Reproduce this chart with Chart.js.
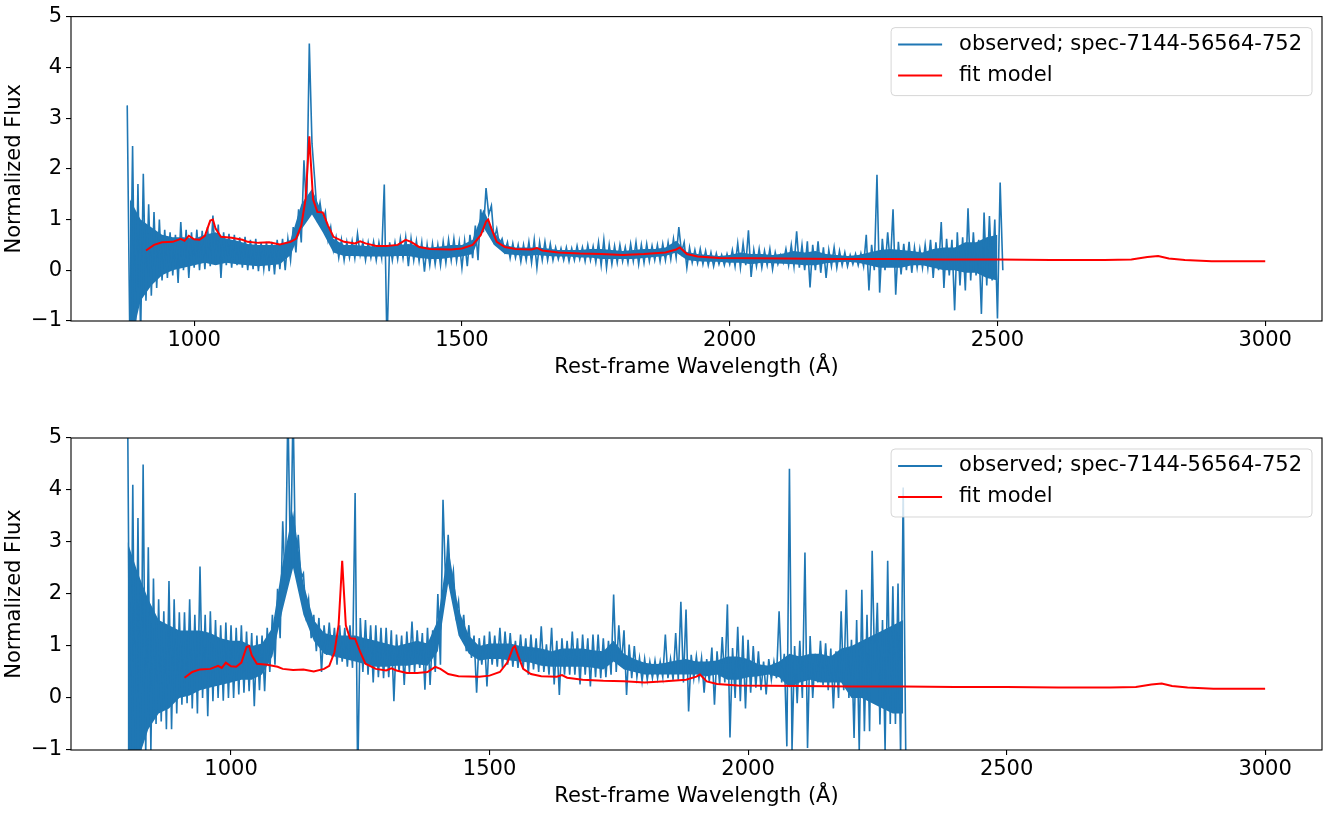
<!DOCTYPE html>
<html>
<head>
<meta charset="utf-8">
<script src="https://cdn.jsdelivr.net/npm/chart.js@4.4.1/dist/chart.umd.min.js"></script>
<style>
  html, body { margin: 0; padding: 0; background: #fff; overflow: hidden; }
  .panel { position: absolute; left: 0; }
</style>
</head>
<body>
<div class="panel" style="top:0"><canvas id="TopChart" width="1331" height="400"></canvas></div>
<div class="panel" style="top:410px"><canvas id="BottomChart" width="1331" height="403"></canvas></div>
<script>
// spectra.js

const xTickValues = [1000, 1500, 2000, 2500, 3000];
const yTickValues = [-1, 0, 1, 2, 3, 4, 5];
const obsLabel = "observed; spec-7144-56564-752";
const fitLabel = "fit model";

// observed flux, read as upper / lower extremes in 10 A bins (spikes)
const binStep = 10;
// plus the dense part of the noise band, read every 20 A
const coreStep = 20;

// top panel: bins start at 875 A
const topStart = 875;
const topHigh = [
    3.25, 2.45, 1.7, 1.9, 1.3, 1.15, 1.0, 0.8, 0.75, 0.7,
    0.95, 0.8, 0.75, 0.8, 0.78, 0.85, 1.08, 0.9, 0.75, 0.72,
    0.7, 0.65, 0.66, 0.6, 0.62, 0.55, 0.56, 0.56, 0.6, 0.62,
    0.62, 0.85, 1.2, 2.17, 4.47, 1.8, 1.33, 1.15, 0.85, 0.65,
    0.6, 0.56, 0.58, 0.72, 0.56, 0.55, 0.56, 0.55, 1.69, 0.55,
    0.55, 0.62, 0.65, 0.62, 0.58, 0.55, 0.5, 0.52, 0.5, 0.56,
    0.6, 0.62, 0.56, 0.58, 0.7, 0.88, 1.2, 1.62, 1.27, 0.82,
    0.62, 0.55, 0.53, 0.5, 0.5, 0.56, 0.6, 0.55, 0.56, 0.52,
    0.45, 0.43, 0.45, 0.43, 0.48, 0.45, 0.5, 0.47, 0.55, 0.6,
    0.5, 0.48, 0.5, 0.45, 0.52, 0.55, 0.5, 0.52, 0.48, 0.5,
    0.52, 0.55, 0.62, 0.85, 0.55, 0.45, 0.4, 0.42, 0.38, 0.35,
    0.33, 0.3, 0.32, 0.4, 0.53, 0.53, 0.79, 0.4, 0.42, 0.38,
    0.42, 0.35, 0.3, 0.42, 0.5, 0.77, 0.5, 0.57, 0.5, 0.57,
    0.45, 0.4, 0.45, 0.38, 0.35, 0.3, 0.32, 0.33, 0.7, 0.5,
    1.88, 0.62, 0.75, 1.2, 0.56, 0.52, 0.56, 0.45, 0.42, 0.5,
    0.6, 0.55, 0.95, 0.62, 0.6, 0.75, 0.65, 1.22, 0.75, 0.6,
    1.14, 1.07, 1.0, 1.73
];
const topLow = [
    -1.5, -1.5, -1.3, -0.6, -0.5, -0.35, -0.2, -0.15, -0.1, -0.25,
    0.0, -0.15, 0.05, 0.0, 0.02, 0.08, 0.15, -0.15, 0.1, 0.05,
    0.1, 0.05, 0.0, 0.02, -0.02, 0.03, -0.02, -0.08, 0.02, 0.0,
    0.2, 0.35, 0.55, 1.1, 2.5, 1.05, 0.95, 0.6, 0.4, 0.25,
    0.2, 0.25, 0.24, 0.3, 0.2, 0.25, 0.2, 0.25, -1.5, 0.2,
    0.22, 0.24, 0.08, 0.2, 0.18, -0.03, 0.1, 0.12, 0.1, 0.15,
    0.2, 0.18, 0.05, 0.08, 0.24, 0.2, 0.75, 1.1, 0.6, 0.5,
    0.37, 0.24, 0.25, 0.17, 0.2, 0.15, 0.05, 0.2, 0.2, 0.2,
    0.22, 0.2, 0.18, 0.2, 0.22, 0.18, 0.2, 0.16, 0.1, 0.05,
    0.12, 0.15, 0.18, 0.15, 0.18, 0.12, 0.15, 0.18, 0.2, 0.18,
    0.2, 0.22, 0.25, 0.35, 0.05, 0.15, 0.14, 0.12, 0.1, 0.08,
    0.12, 0.1, 0.12, 0.08, 0.05, 0.1, -0.13, 0.08, 0.05, 0.1,
    0.02, 0.12, 0.15, 0.1, 0.08, 0.05, 0.0, -0.34, 0.0, -0.05,
    -0.15, 0.08, 0.05, 0.1, 0.08, 0.12, 0.1, 0.08, -0.4, 0.0,
    -0.44, 0.0, 0.1, -0.48, -0.08, 0.0, -0.05, 0.05, 0.05, 0.05,
    -0.15, 0.0, -0.35, -0.1, -0.79, -0.3, -0.4, -0.2, -0.1, -0.86,
    -0.3, -0.2, -0.95, 0.0
];
// dense band, top panel, from 880 A
const topCoreStart = 880;
const topCoreHigh = [
    1.4, 1.0, 0.85, 0.7, 0.65, 0.65, 0.62, 0.7, 0.75, 0.62, 0.58, 0.52, 0.5, 0.5, 0.5, 0.6,
    1.3, 1.6, 1.1, 0.62, 0.5, 0.5, 0.48, 0.47, 0.47, 0.5, 0.52, 0.48, 0.45, 0.47, 0.5,
    0.5, 0.6, 1.2, 0.75, 0.5, 0.45, 0.45, 0.45, 0.43, 0.4, 0.4, 0.4, 0.42, 0.42, 0.4,
    0.38, 0.4, 0.42, 0.42, 0.45, 0.58, 0.36, 0.32, 0.3, 0.28, 0.3, 0.35, 0.32, 0.32, 0.3,
    0.33, 0.38, 0.35, 0.38, 0.32, 0.3, 0.28, 0.3, 0.35, 0.4, 0.42, 0.4, 0.38, 0.35, 0.42,
    0.45, 0.45, 0.55, 0.55, 0.65, 0.7
];
const topCoreLow = [
    -1.5, -0.6, -0.3, -0.1, 0.0, 0.05, 0.1, 0.15, 0.1, 0.15, 0.12, 0.1, 0.08, 0.1, 0.12, 0.3,
    0.8, 1.1, 0.75, 0.35, 0.28, 0.28, 0.27, 0.27, 0.27, 0.28, 0.28, 0.24, 0.22, 0.22, 0.25,
    0.27, 0.32, 0.85, 0.5, 0.32, 0.3, 0.28, 0.3, 0.28, 0.27, 0.27, 0.25, 0.25, 0.22, 0.22,
    0.22, 0.22, 0.24, 0.26, 0.28, 0.35, 0.2, 0.18, 0.17, 0.17, 0.15, 0.15, 0.12, 0.15, 0.14,
    0.13, 0.12, 0.1, 0.1, 0.14, 0.16, 0.17, 0.15, 0.1, 0.05, 0.05, 0.05, 0.1, 0.1, 0.05,
    0.0, 0.0, -0.05, -0.05, -0.15, -0.2
];

// bottom panel: bins start at 800 A
const bottomStart = 800;
const bottomHigh = [
    5.6, 4.1, 3.46, 4.49, 2.9, 2.3, 1.9, 1.67, 2.25, 1.9,
    1.65, 1.65, 1.9, 1.6, 2.53, 1.6, 1.67, 1.5, 1.4, 1.45,
    1.4, 1.35, 1.4, 1.28, 1.25, 1.2, 1.2, 1.35, 1.6, 2.1,
    3.4, 5.6, 5.6, 3.14, 2.4, 1.9, 1.6, 1.54, 1.4, 1.45,
    1.35, 1.4, 1.35, 1.4, 3.94, 1.54, 1.5, 1.4, 1.4, 1.35,
    1.35, 1.3, 1.22, 1.2, 1.28, 1.47, 1.3, 1.25, 1.35, 1.3,
    2.0, 3.81, 3.14, 2.44, 1.86, 1.6, 1.4, 1.2, 1.15, 1.2,
    1.28, 1.2, 1.35, 1.28, 1.25, 1.1, 1.22, 1.15, 1.22, 1.15,
    1.38, 1.03, 1.35, 1.1, 1.15, 1.1, 1.28, 1.15, 1.22, 1.15,
    1.22, 1.22, 1.15, 1.1, 1.99, 1.4, 1.3, 1.03, 1.0, 0.77,
    0.75, 0.7, 0.72, 0.7, 1.22, 0.75, 1.25, 1.85, 1.7, 0.83,
    0.8, 0.77, 0.75, 0.97, 0.9, 1.17, 1.8, 0.96, 1.37, 1.2,
    1.12, 1.0, 0.9, 0.7, 0.75, 0.7, 1.67, 0.85, 4.41, 1.0,
    1.1, 2.8, 1.19, 0.85, 1.1, 1.05, 0.95, 0.9, 1.67, 2.08,
    1.12, 1.5, 2.08, 1.6, 2.83, 1.83, 1.5, 2.64, 2.15, 2.2,
    4.05
];
const bottomLow = [
    -1.6, -1.6, -1.4, -1.1, -1.0, -0.5, -0.45, -0.6, -0.6, -0.3,
    -0.13, -0.1, -0.2, -0.3, 0.0, -0.35, -0.06, 0.0, -0.05, 0.0,
    0.0, 0.07, 0.1, 0.13, -0.16, 0.15, 0.13, 0.5, 0.64, 1.15,
    2.1, 2.5, 2.4, 2.3, 1.6, 1.15, 0.9, 0.5, 0.83, 0.8,
    0.64, 0.7, 0.6, 0.58, -1.6, 0.5, 0.45, 0.3, 0.4, 0.38,
    0.4, -0.06, 0.5, 0.25, 0.5, 0.5, 0.58, 0.16, 0.25, 0.5,
    0.64, 2.2, 2.1, 1.6, 1.15, 0.9, 0.77, 0.1, 0.64, 0.22,
    0.64, 0.6, 0.58, 0.64, 0.6, 0.58, 0.58, 0.45, 0.55, 0.5,
    0.5, 0.45, 0.26, 0.06, 0.45, 0.45, 0.45, 0.26, 0.45, 0.22,
    0.4, 0.38, 0.4, 0.45, 0.5, 0.64, 0.06, 0.38, 0.4, 0.32,
    0.35, 0.38, 0.38, 0.4, 0.38, 0.35, 0.35, 0.3, -0.26, 0.38,
    0.38, 0.1, 0.32, -0.13, 0.25, 0.3, -0.76, 0.0, -0.06, -0.2,
    0.1, 0.2, 0.15, 0.07, 0.35, 0.38, 0.3, -0.93, -1.0, -0.1,
    0.0, -0.96, 0.0, 0.3, 0.25, 0.15, -0.2, 0.0, 0.15, 0.0,
    -0.77, -1.0, -0.64, -0.64, 0.5, -0.51, -1.0, -0.5, -0.5, -1.1,
    -1.1
];
// dense band, bottom panel, from 800 A
const bottomCoreStart = 800;
const bottomCoreHigh = [
    3.0, 2.4, 1.9, 1.5, 1.4, 1.3, 1.3, 1.3, 1.25, 1.15, 1.1, 1.1, 1.0, 1.05, 1.35, 2.6,
    3.6, 2.2, 1.5, 1.25, 1.2, 1.2, 1.2, 1.15, 1.1, 1.05, 1.0, 1.05, 1.1, 1.05, 1.5,
    2.9, 1.7, 1.2, 1.0, 1.05, 1.05, 1.05, 1.0, 0.98, 0.95, 0.9, 0.95, 0.95, 0.95, 0.92,
    0.9, 1.1, 0.85, 0.75, 0.68, 0.65, 0.68, 0.72, 0.75, 0.7, 0.7, 0.72, 0.8, 0.8, 0.75,
    0.65, 0.62, 0.7, 0.85, 0.8, 0.85, 0.85, 0.8, 0.95, 1.0, 1.1, 1.2, 1.3, 1.4, 1.5
];
const bottomCoreLow = [
    -1.5, -1.2, -0.6, -0.3, -0.2, 0.0, 0.05, 0.15, 0.2, 0.25, 0.3, 0.35, 0.35, 0.45, 0.8, 1.7,
    2.5, 1.6, 1.1, 0.85, 0.8, 0.75, 0.7, 0.65, 0.6, 0.6, 0.62, 0.62, 0.65, 0.62, 0.9,
    2.2, 1.2, 0.85, 0.72, 0.75, 0.75, 0.72, 0.7, 0.68, 0.62, 0.6, 0.6, 0.6, 0.6, 0.58,
    0.55, 0.7, 0.55, 0.5, 0.45, 0.45, 0.45, 0.45, 0.45, 0.45, 0.42, 0.45, 0.35, 0.35, 0.4,
    0.42, 0.45, 0.4, 0.2, 0.3, 0.35, 0.3, 0.3, 0.3, 0.0, 0.0, -0.1, -0.2, -0.3, -0.3
];

// fit model (same in both panels)
const modelWave = [
    910, 925, 940, 960, 975, 982, 990, 1000, 1010, 1020,
    1030, 1035, 1040, 1050, 1070, 1090, 1100, 1120, 1140, 1160,
    1180, 1190, 1200, 1208, 1212, 1215, 1218, 1222, 1230, 1240,
    1250, 1260, 1280, 1300, 1310, 1320, 1340, 1360, 1380, 1395,
    1405, 1420, 1440, 1480, 1500, 1520, 1535, 1545, 1549, 1555,
    1565, 1580, 1600, 1630, 1640, 1650, 1680, 1720, 1760, 1800,
    1840, 1880, 1900, 1907, 1920, 1940, 1980, 2100, 2200, 2300,
    2400, 2500, 2600, 2700, 2750, 2780, 2800, 2820, 2850, 2900,
    3000
];
const modelFlux = [
    0.39, 0.5, 0.55, 0.56, 0.62, 0.58, 0.68, 0.61, 0.6, 0.68,
    0.98, 1.0, 0.82, 0.66, 0.64, 0.6, 0.56, 0.54, 0.55, 0.51,
    0.56, 0.62, 0.88, 1.4, 2.1, 2.64, 2.1, 1.4, 1.15, 1.14,
    0.88, 0.66, 0.56, 0.53, 0.57, 0.53, 0.48, 0.48, 0.5, 0.6,
    0.56, 0.46, 0.42, 0.41, 0.43, 0.5, 0.69, 0.96, 1.0, 0.82,
    0.56, 0.46, 0.42, 0.41, 0.44, 0.39, 0.35, 0.33, 0.32, 0.3,
    0.32, 0.35, 0.41, 0.45, 0.32, 0.27, 0.24, 0.23, 0.22, 0.22,
    0.21, 0.21, 0.2, 0.2, 0.21, 0.26, 0.28, 0.23, 0.2, 0.18,
    0.18
];

const BLUE = "#1f77b4";
const RED = "#ff0000";
const FONT = "'DejaVu Sans', 'Liberation Sans', sans-serif";
const FONT_SIZE = 21;

// high value at bin start, low value half a bin later
function envelopePoints(start, high, low) {
    const pts = [];
    high.forEach((h, i) => {
        const w = start + i * binStep;
        pts.push({ x: w, y: h });
        pts.push({ x: w + binStep / 2, y: low[i] });
    });
    return pts;
}

function bandPoints(start, values) {
    return values.map((v, i) => ({ x: start + i * coreStep, y: v }));
}

const modelPoints = modelWave.map((w, i) => ({ x: w, y: modelFlux[i] }));

// axes frame + matplotlib-like legend box
const frameAndLegend = {
    id: "frameAndLegend",
    afterDraw(chart) {
        const ctx = chart.ctx;
        const a = chart.chartArea;
        ctx.save();
        ctx.strokeStyle = "#000";
        ctx.lineWidth = 1.1;
        ctx.strokeRect(a.left, a.top, a.right - a.left, a.bottom - a.top);

        ctx.font = FONT_SIZE + "px " + FONT;
        const sets = chart.data.datasets.filter(ds => ds.label);
        let textW = 0;
        sets.forEach(ds => { textW = Math.max(textW, ctx.measureText(ds.label).width); });
        const boxW = 7 + 44 + 17 + textW + 10;
        const boxH = 68;
        const bx = a.right - 10 - boxW;
        const by = a.top + 11;

        ctx.beginPath();
        ctx.roundRect(bx, by, boxW, boxH, 4);
        ctx.fillStyle = "rgba(255,255,255,0.8)";
        ctx.fill();
        ctx.strokeStyle = "rgba(204,204,204,0.8)";
        ctx.lineWidth = 1;
        ctx.stroke();

        sets.forEach((ds, i) => {
            const y = by + 17 + i * 31;
            ctx.beginPath();
            ctx.moveTo(bx + 7, y);
            ctx.lineTo(bx + 51, y);
            ctx.strokeStyle = ds.borderColor;
            ctx.lineWidth = 2;
            ctx.stroke();
            ctx.fillStyle = "#000";
            ctx.textAlign = "left";
            ctx.textBaseline = "middle";
            ctx.fillText(ds.label, bx + 68, y);
        });
        ctx.restore();
    }
};

function makeChart(canvasId, obsPoints, coreHighPts, coreLowPts, xMin, xMax, padTop, xAxisHeight, titlePad) {
    const context = document.getElementById(canvasId).getContext("2d");
    return new Chart(context, {
        type: "line",
        data: {
            datasets: [{
                label: obsLabel,
                data: obsPoints,
                borderColor: BLUE,
                borderWidth: 1.6,
                pointRadius: 0,
                tension: 0,
                clip: 0,
                order: 1
            }, {
                label: fitLabel,
                data: modelPoints,
                borderColor: RED,
                borderWidth: 2,
                pointRadius: 0,
                tension: 0,
                clip: 0,
                order: 0
            }, {
                label: "",
                data: coreHighPts,
                borderColor: "rgba(0,0,0,0)",
                borderWidth: 0,
                backgroundColor: BLUE,
                fill: "+1",
                pointRadius: 0,
                tension: 0,
                clip: 0,
                order: 2
            }, {
                label: "",
                data: coreLowPts,
                borderColor: "rgba(0,0,0,0)",
                borderWidth: 0,
                pointRadius: 0,
                tension: 0,
                clip: 0,
                order: 2
            }]
        },
        options: {
            responsive: false,
            animation: false,
            events: [],
            layout: { padding: { top: padTop, right: 9, bottom: 0, left: 0 } },
            plugins: {
                legend: { display: false },
                tooltip: { enabled: false }
            },
            scales: {
                x: {
                    type: "linear",
                    min: xMin,
                    max: xMax,
                    afterBuildTicks: scale => { scale.ticks = xTickValues.map(v => ({ value: v })); },
                    afterFit: scale => { scale.height = xAxisHeight; },
                    grid: { drawOnChartArea: false, drawTicks: true, tickLength: 5, color: "#000", lineWidth: 1.1 },
                    border: { display: false },
                    ticks: {
                        color: "#000",
                        padding: 2,
                        maxRotation: 0,
                        font: { family: FONT, size: FONT_SIZE },
                        callback: v => String(v)
                    },
                    title: {
                        display: true,
                        text: "Rest-frame Wavelength (\u00c5)",
                        color: "#000",
                        font: { family: FONT, size: FONT_SIZE },
                        padding: { top: 0, bottom: titlePad }
                    }
                },
                y: {
                    min: -1,
                    max: 5,
                    afterBuildTicks: scale => { scale.ticks = yTickValues.map(v => ({ value: v })); },
                    afterFit: scale => { scale.width = 71; },
                    grid: { drawOnChartArea: false, drawTicks: true, tickLength: 5, color: "#000", lineWidth: 1.1 },
                    border: { display: false },
                    ticks: {
                        color: "#000",
                        padding: 4,
                        font: { family: FONT, size: FONT_SIZE },
                        callback: v => (v < 0 ? "\u2212" + Math.abs(v) : String(v))
                    },
                    title: {
                        display: true,
                        text: "Normalized Flux",
                        color: "#000",
                        font: { family: FONT, size: FONT_SIZE },
                        padding: { top: 2, bottom: 0 }
                    }
                }
            }
        },
        plugins: [frameAndLegend]
    });
}

makeChart("TopChart",
    envelopePoints(topStart, topHigh, topLow),
    bandPoints(topCoreStart, topCoreHigh), bandPoints(topCoreStart, topCoreLow),
    770, 3106, 10, 79, 20);
makeChart("BottomChart",
    envelopePoints(bottomStart, bottomHigh, bottomLow),
    bandPoints(bottomCoreStart, bottomCoreHigh), bandPoints(bottomCoreStart, bottomCoreLow),
    690.5, 3110, 28, 63, 4);
</script>
</body>
</html>
